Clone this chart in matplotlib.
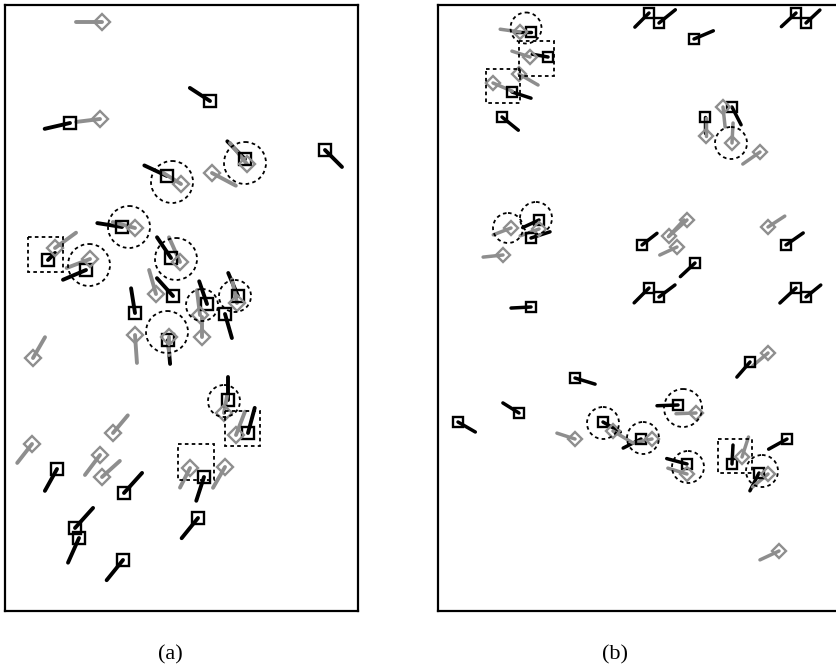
import numpy as np
import matplotlib
matplotlib.use("Agg")
import matplotlib.pyplot as plt
from matplotlib.patches import Circle, Rectangle

# ---- panel (a) ----
# black minutiae: x, y (image pixels), direction (deg), tail length
a_blk_x = [210, 70, 325, 245, 167, 122, 48, 86, 171, 173, 135, 207, 238, 225, 168, 228, 248, 57, 124, 204, 198, 75, 79, 123]
a_blk_y = [101, 123, 150, 159, 176, 227, 260, 270, 258, 296, 313, 304, 296, 314, 340, 400, 433, 469, 493, 477, 518, 528, 538, 560]
a_blk_ang = [147, 193, -45, 135, 155, 171, 45, 203, 124, 132, 99, 109, 113, -74, -85, 90, 75, 241, 48, 252, 231, 48, 246, 231]
a_blk_len = [24, 26, 24, 25, 25, 25, 10, 25, 25, 24, 25, 24, 25, 25, 24, 23, 26, 25, 27, 25, 26, 27, 27, 26]

# gray minutiae
a_gry_x = [102, 100, 247, 181, 212, 135, 55, 90, 180, 156, 200, 202, 237, 169, 135, 33, 224, 236, 113, 32, 100, 102, 190, 225]
a_gry_y = [22, 119, 164, 184, 173, 228, 248, 259, 262, 294, 315, 337, 303, 337, 335, 358, 413, 435, 433, 444, 455, 477, 468, 467]
a_gry_ang = [180, 187, 129, 148, -28, 165, 36, 201, 114, 106, 97, 90, 102, -90, -86, 60, 80, 69, 50, 232, 233, 42, 243, 240]
a_gry_len = [26, 24, 27, 21, 27, 23, 26, 25, 27, 25, 25, 20, 24, 18, 28, 24, 18, 25, 23, 24, 25, 24, 22, 24]

# matched pairs (dashed circles) and unmatched (dashed boxes)
a_circ_x = [245, 172, 129, 89, 176, 202, 235, 167, 224]
a_circ_y = [163, 182, 227, 265, 259, 305, 296, 332, 401]
a_circ_r = [21, 21, 21, 21, 21, 16, 16, 21, 16]
a_box_x = [45, 242, 196]
a_box_y = [254, 428, 462]
a_box_s = [35, 35, 36]

# ---- panel (b) ----
b_blk_x = [531, 548, 512, 502, 649, 659, 694, 796, 806, 705, 732, 539, 531, 642, 695, 649, 659, 796, 806, 786, 531, 750, 575, 519, 458, 603, 641, 678, 687, 732, 759, 787]
b_blk_y = [32, 57, 92, 117, 13, 23, 39, 13, 23, 117, 107, 220, 238, 245, 263, 288, 297, 288, 297, 245, 307, 362, 378, 413, 422, 422, 439, 405, 464, 464, 473, 439]
b_blk_ang = [180, 170, -18, -39, 225, 39, 23, 223, 43, -90, -63, 205, 18, 38, 223, 225, 37, 223, 39, 35, 183, 229, -17, 148, -30, -30, 207, 182, 165, 87, 243, 209]
b_blk_len = [15, 16, 20, 21, 20, 21, 21, 20, 19, 16, 20, 18, 20, 19, 20, 21, 20, 22, 19, 21, 20, 20, 21, 19, 20, 20, 20, 21, 21, 19, 20, 21]

b_gry_x = [520, 530, 519, 493, 706, 723, 732, 760, 511, 539, 503, 687, 677, 669, 768, 768, 575, 613, 652, 696, 687, 742, 768, 779]
b_gry_y = [32, 57, 74, 83, 136, 107, 143, 152, 228, 229, 255, 220, 247, 236, 227, 353, 439, 431, 439, 413, 474, 457, 474, 551]
b_gry_ang = [172, 162, -30, -23, 90, -84, 87, 215, 201, 200, 186, 222, 205, 47, 33, 220, 162, -31, 192, 182, 163, 72, 220, 205]
b_gry_len = [20, 19, 22, 21, 18, 20, 20, 21, 19, 20, 20, 25, 19, 22, 20, 20, 19, 23, 19, 20, 20, 21, 20, 21]

b_circ_x = [526, 731, 508, 536, 603, 643, 683, 688, 762]
b_circ_y = [28, 143, 228, 218, 423, 438, 408, 467, 471]
b_circ_r = [15.5, 16, 15, 16, 16, 16, 19, 16, 16]
b_box_x = [537, 503, 735]
b_box_y = [58, 86, 456]
b_box_s = [35, 34, 34]

labels = ["(a)", "(b)"]

GRAY = "#8e8e8e"
W, H = 836, 666

plt.rcParams['font.family'] = ['Liberation Serif', 'DejaVu Serif']
fig = plt.figure(figsize=(W / 100, H / 100), dpi=100)


def add_panel(x0, x1, y0, y1):
    ax = fig.add_axes([x0 / W, 1 - y1 / H, (x1 - x0) / W, (y1 - y0) / H])
    ax.set_xlim(x0, x1)
    ax.set_ylim(y1, y0)
    ax.set_xticks([])
    ax.set_yticks([])
    for s in ax.spines.values():
        s.set_linewidth(1.6)
    return ax


def draw_minutiae(ax, xs, ys, angs, lens, color, marker, msize, lw):
    for x, y, a, l in zip(xs, ys, angs, lens):
        t = np.deg2rad(a)
        ax.plot([x, x + l * np.cos(t)], [y, y - l * np.sin(t)], color=color,
                lw=lw, solid_capstyle='round', zorder=3)
    ax.plot(xs, ys, ls='none', marker=marker, ms=msize, mfc='none',
            mec=color, mew=1.7, zorder=4)


def draw_marks(ax, cx, cy, cr, bx, by, bs):
    for x, y, r in zip(cx, cy, cr):
        ax.add_patch(Circle((x, y), r, fill=False, ec='black', lw=1.3,
                            ls=(0, (2, 1.8)), zorder=5))
    for x, y, s in zip(bx, by, bs):
        ax.add_patch(Rectangle((x - s / 2, y - s / 2), s, s, fill=False,
                               ec='black', lw=1.3, ls=(0, (2, 1.8)), zorder=5))


ax_a = add_panel(5, 358, 5, 611)
draw_minutiae(ax_a, a_blk_x, a_blk_y, a_blk_ang, a_blk_len, 'black', 's', 8.6, 2.8)
draw_minutiae(ax_a, a_gry_x, a_gry_y, a_gry_ang, a_gry_len, GRAY, 'D', 8.5, 2.8)
draw_marks(ax_a, a_circ_x, a_circ_y, a_circ_r, a_box_x, a_box_y, a_box_s)

ax_b = add_panel(438, 850, 5, 611)
draw_minutiae(ax_b, b_blk_x, b_blk_y, b_blk_ang, b_blk_len, 'black', 's', 7.4, 2.5)
draw_minutiae(ax_b, b_gry_x, b_gry_y, b_gry_ang, b_gry_len, GRAY, 'D', 7.6, 2.5)
draw_marks(ax_b, b_circ_x, b_circ_y, b_circ_r, b_box_x, b_box_y, b_box_s)

fig.text(170 / W, 1 - 655 / H, labels[0], ha='center', va='center', fontsize=16)
fig.text(615 / W, 1 - 655 / H, labels[1], ha='center', va='center', fontsize=16)

fig.savefig("out.png", dpi=100)
